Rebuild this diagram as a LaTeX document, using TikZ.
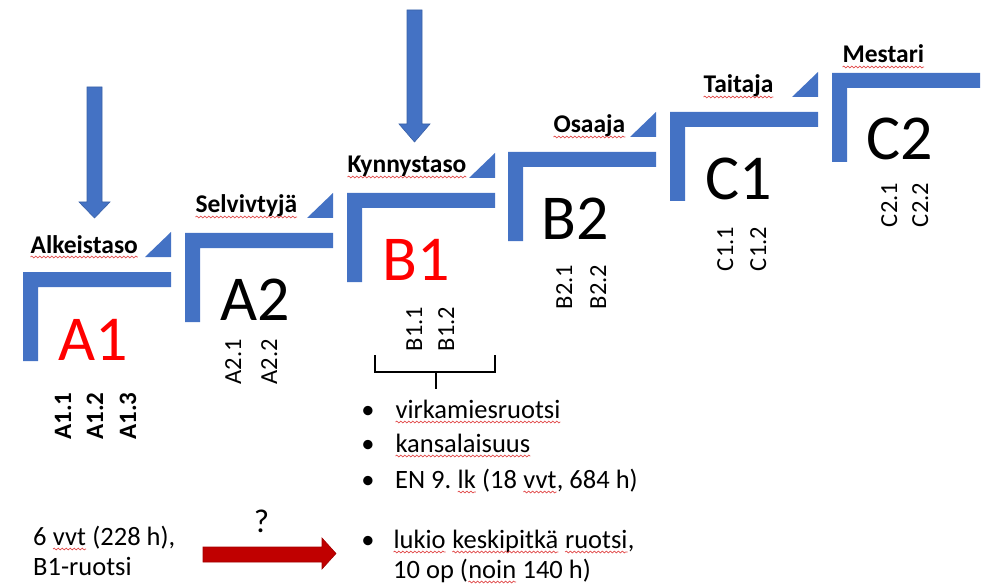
\documentclass[tikz,border=0pt]{standalone}
\usepackage{fontspec}
\setmainfont{Carlito}
\usetikzlibrary{decorations.pathmorphing}
\definecolor{stepblue}{HTML}{4472C4}
\definecolor{darkred}{HTML}{C00000}
\definecolor{squig}{HTML}{E04848}
\definecolor{lvred}{HTML}{FF0000}
\frenchspacing
\newcommand\sq[1]{\tikz[baseline=(sqw.base)]{\node[inner sep=0pt,outer sep=0pt,anchor=base west,rotate=0] (sqw) at (0,0) {#1};
  \draw[squig, line width=0.7pt, decorate, decoration={snake, amplitude=0.9pt, segment length=4pt}]
   ([yshift=-4pt]sqw.base west) -- ([yshift=-4pt]sqw.base east);}}
\tikzset{
  stair/.pic={\fill[stepblue] (0,0) -- (148,0) -- (148,15) -- (15,15) -- (15,89) -- (0,89) -- cycle;},
  flag/.pic={\fill[stepblue] (122,-15) -- (148,-15) -- (148,-40) -- cycle;},
  lvl/.style={font=\fontsize{25.5}{30}\selectfont\bfseries, anchor=base west, inner sep=0},
  big/.style={font=\fontsize{64}{70}\selectfont, anchor=base, inner sep=0},
  sub/.style={font=\fontsize{24.5}{28}\selectfont, rotate=90, anchor=base, inner sep=0},
  subb/.style={sub, font=\fontsize{25}{28}\selectfont\bfseries},
  body/.style={font=\fontsize{26.5}{32}\selectfont, anchor=base west, inner sep=0},
  bul/.style={font=\fontsize{26.5}{32}\selectfont, anchor=base, inner sep=0},
  blockblue/.style={fill=stepblue, draw=stepblue!85!black, line width=0.6pt},
  blockred/.style={fill=darkred, draw=darkred!85!black, line width=0.6pt},
  brace/.style={draw=black, line width=1.6pt},
}
\begin{document}
\begin{tikzpicture}[x=1pt,y=-1pt]
\useasboundingbox (0,0) rectangle (984,585);

% stairs
\pic at (23,272) {stair}; \pic at (23,272) {flag};
\pic at (185,233) {stair}; \pic at (185,233) {flag};
\pic at (347,193) {stair}; \pic at (347,193) {flag};
\pic at (508,152) {stair}; \pic at (508,152) {flag};
\pic at (670,112) {stair}; \pic at (670,112) {flag};
\pic at (832,73) {stair};

% level names
\node[lvl] (alk) at (30,253) {\sq{Alkeistaso}};
\node[lvl] (sel) at (195,213) {\sq{Selvivtyjä}};
\node[lvl] (kyn) at (347,173) {\sq{Kynnystaso}};
\node[lvl] (osa) at (553,133) {\sq{Osaaja}};
\node[lvl] (tai) at (703,93) {\sq{Taitaja}};
\node[lvl] (mes) at (842,63) {\sq{Mestari}};

% big labels
\node[big, text=lvred] (a1) at (93.5,360) {A1};
\node[big] (a2) at (255,320) {A2};
\node[big, text=lvred] (b1) at (416,280) {B1};
\node[big] (b2) at (575.5,240) {B2};
\node[big] (c1) at (738.5,200) {C1};
\node[big] (c2) at (900,160) {C2};

% sublevels
\node[subb] (a11) at (71,416) {A1.1};
\node[subb] (a12) at (103,416) {A1.2};
\node[subb] (a13) at (136,416) {A1.3};
\node[sub] (a21) at (241,362) {A2.1};
\node[sub] (a22) at (277,362) {A2.2};
\node[sub] (b11) at (422,329) {B1.1};
\node[sub] (b12) at (454,329) {B1.2};
\node[sub] (b21) at (572,287) {B2.1};
\node[sub] (b22) at (606,287) {B2.2};
\node[sub] (c11) at (733,249) {C1.1};
\node[sub] (c12) at (766,249) {C1.2};
\node[sub] (c21) at (897,205) {C2.1};
\node[sub] (c22) at (928,205) {C2.2};

% blue down arrows
\draw[blockblue] (87,87) -- (102,87) -- (102,202) -- (110,202) -- (94.5,218)
  -- (79,202) -- (87,202) -- cycle;
\draw[blockblue] (407,10) -- (422,10) -- (422,124) -- (430,124) -- (414.5,142)
  -- (399,124) -- (407,124) -- cycle;

% bracket under B1
\coordinate (brl) at (375,355);
\coordinate (brr) at (495,355);
\coordinate (brm) at (436,372);
\coordinate (brs) at (436,389);
\draw[brace] (brl) -- (brl |- brm) -- (brr |- brm) -- (brr);
\draw[brace] (brm) -- (brs);

% bullet list
\node[bul] (bu1) at (368,418) {\textbullet};
\node[body] (l1) at (395,418) {\sq{virkamiesruotsi}};
\node[bul] (bu2) at (368,452) {\textbullet};
\node[body] (l2) at (395,452) {\sq{kansalaisuus}};
\node[bul] (bu3) at (368,488) {\textbullet};
\node[body] (l3) at (395,488) {EN 9. \sq{lk} (18 \sq{vvt}, 684 h)};

% bottom
\node[body] (bl1) at (33,545) {6 \sq{vvt} (228 h),};
\node[body] (bl2) at (33,575) {B1-ruotsi};
\node[bul, font=\fontsize{33}{36}\selectfont] (q) at (261.5,532) {?};
\draw[blockred] (203,547) -- (322,547) -- (322,538) -- (336,553.5) -- (322,569)
  -- (322,562) -- (203,562) -- cycle;
\node[bul] (bu4) at (368,548) {\textbullet};
\node[body] (r1) at (393,548) {\sq{lukio} \sq{keskipitkä} \sq{ruotsi},};
\node[body] (r2) at (393,578) {10 op (\sq{noin} 140 h)};
\end{tikzpicture}
\end{document}
